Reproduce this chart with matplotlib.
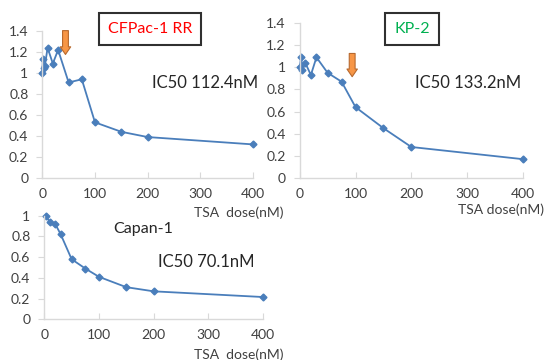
import matplotlib.pyplot as plt
import numpy as np

plt.rcParams['font.family'] = ['Lato', 'DejaVu Sans']

# CFPac-1 RR
dose_cf = [0, 1, 2.5, 5, 10, 20, 30, 50, 75, 100, 150, 200, 400]
via_cf = [1.0, 1.13, 1.05, 1.07, 1.24, 1.09, 1.22, 0.91, 0.94, 0.53, 0.44, 0.39, 0.32]
# KP-2
dose_kp = [0, 2.5, 5, 10, 20, 30, 50, 75, 100, 150, 200, 400]
via_kp = [1.0, 1.09, 0.98, 1.04, 0.93, 1.09, 0.95, 0.87, 0.64, 0.45, 0.28, 0.17]
# Capan-1
dose_cap = [2.5, 10, 20, 30, 50, 75, 100, 150, 200, 400]
via_cap = [1.0, 0.94, 0.92, 0.82, 0.58, 0.49, 0.41, 0.31, 0.27, 0.215]

xticks = [0, 100, 200, 300, 400]
line_col = '#4A7EBB'
W, H = 546, 360


def style(ax, ymax):
    ax.set_xlim(0, 400)
    ax.set_ylim(0, ymax)
    ax.set_xticks(xticks)
    yt = np.round(np.arange(0, ymax + 0.01, 0.2), 1)
    ax.set_yticks(yt)
    ax.set_yticklabels([('%g' % v) for v in yt])
    for s in ['top', 'right']:
        ax.spines[s].set_visible(False)
    for s in ['left', 'bottom']:
        ax.spines[s].set_color('#D9D9D9')
        ax.spines[s].set_linewidth(1)
    ax.tick_params(axis='y', direction='out', length=4, color='#D9D9D9',
                   labelsize=10, labelcolor='#404040', pad=6)
    ax.tick_params(axis='x', direction='in', length=4, color='#D9D9D9',
                   labelsize=10, labelcolor='#404040', pad=7)
    ax.patch.set_alpha(0)


def axes_px(fig, x0, x1, y0, y1):
    # x0/x1: pixel of x=0 and x=400, y0/y1: pixel (from top) of y=0 and ymax
    return fig.add_axes([x0 / W, 1 - y0 / H, (x1 - x0) / W, (y0 - y1) / H])


fig = plt.figure(figsize=(5.46, 3.6), dpi=100)

ax1 = axes_px(fig, 42.3, 253, 178, 31)
ax1.plot(dose_cf, via_cf, color=line_col, lw=1.3, marker='D', ms=3.5, clip_on=False)
style(ax1, 1.4)

ax2 = axes_px(fig, 299.7, 523, 178, 23)
ax2.plot(dose_kp, via_kp, color=line_col, lw=1.3, marker='D', ms=3.5, clip_on=False)
style(ax2, 1.4)

ax3 = axes_px(fig, 44.3, 263, 319.3, 215.7)
ax3.plot(dose_cap, via_cap, color=line_col, lw=1.3, marker='D', ms=3.5, clip_on=False)
style(ax3, 1.0)

# arrows
arrow_kw = dict(arrowstyle='simple,head_length=0.55,head_width=0.75,tail_width=0.42',
                fc='#F79646', ec='#B7692F', lw=0.8)
ax1.annotate('', xy=(44, 1.15), xytext=(44, 1.43), arrowprops=arrow_kw,
             annotation_clip=False)
ax2.annotate('', xy=(94, 0.89), xytext=(94, 1.15), arrowprops=arrow_kw)

# labels
fig.text(150 / W, 1 - 29 / H, 'CFPac-1 RR', color='#FF0000', fontsize=11.5,
         ha='center', va='center',
         bbox=dict(boxstyle='square,pad=0.55', fc='white', ec='#303030', lw=1.5))
fig.text(412 / W, 1 - 29 / H, 'KP-2', color='#00B050', fontsize=11.5,
         ha='center', va='center',
         bbox=dict(boxstyle='square,pad=0.55', fc='white', ec='#303030', lw=1.5))

fig.text(205 / W, 1 - 83 / H, 'IC50 112.4nM', fontsize=12, color='#262626',
         ha='center', va='center')
fig.text(468 / W, 1 - 83 / H, 'IC50 133.2nM', fontsize=12, color='#262626',
         ha='center', va='center')
fig.text(143 / W, 1 - 229 / H, 'Capan-1', fontsize=11.5, color='#262626',
         ha='center', va='center')
fig.text(206 / W, 1 - 262 / H, 'IC50 70.1nM', fontsize=12, color='#262626',
         ha='center', va='center')

fig.text(239 / W, 1 - 213 / H, 'TSA  dose(nM)', fontsize=10, color='#404040',
         ha='center', va='center')
fig.text(501 / W, 1 - 210 / H, 'TSA dose(nM)', fontsize=10, color='#404040',
         ha='center', va='center')
fig.text(239 / W, 1 - 355 / H, 'TSA  dose(nM)', fontsize=10, color='#404040',
         ha='center', va='center')

fig.savefig('out.png', dpi=100)
